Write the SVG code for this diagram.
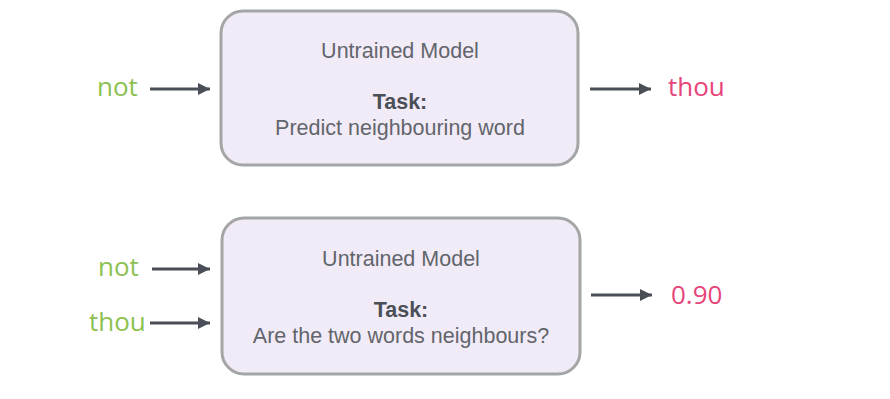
<svg xmlns="http://www.w3.org/2000/svg" width="890" height="399" viewBox="0 0 890 399">
<style>
.box{fill:#f1ebf8;stroke:#a4a6a5;stroke-width:3}
.t{font-family:"Liberation Sans",Arial,sans-serif;font-size:21.5px;fill:#62656b;text-anchor:middle}
.b{font-weight:bold;fill:#4b4f56}
.in{font-family:"Open Sans","Noto Sans",sans-serif;font-size:26px;fill:#8cc152}
.out{font-family:"Open Sans","Noto Sans",sans-serif;font-size:26px;fill:#e6457a}
.c line{stroke:#4a4f57;stroke-width:3;marker-end:url(#ah)}
</style>
<defs>
<marker id="ah" viewBox="0 0 12 12" refX="12" refY="6" markerWidth="12" markerHeight="12" markerUnits="userSpaceOnUse" orient="auto">
<path d="M0,0 L12,6 L0,12 Z" fill="#4a4f57"/>
</marker>
</defs>
<rect width="890" height="399" fill="#ffffff"/>
<g id="model1">
<rect class="box" x="221" y="11" width="357" height="154" rx="22"/>
<text class="t" x="400" y="58">Untrained Model</text>
<text class="t b" x="400" y="109">Task:</text>
<text class="t" x="400" y="135">Predict neighbouring word</text>
</g>
<g id="model2">
<rect class="box" x="222" y="218" width="358" height="156" rx="22"/>
<text class="t" x="401" y="266">Untrained Model</text>
<text class="t b" x="401" y="317">Task:</text>
<text class="t" x="401" y="343">Are the two words neighbours?</text>
</g>
<g id="in1"><text class="in" x="97" y="96">not</text></g>
<g id="out1"><text class="out" x="668" y="96">thou</text></g>
<g id="in2a"><text class="in" x="98" y="276">not</text></g>
<g id="in2b"><text class="in" x="89" y="331">thou</text></g>
<g id="out2"><text class="out" x="671" y="304">0.90</text></g>
<g class="c" id="connectors">
<line x1="150" y1="89" x2="210" y2="89"/>
<line x1="590" y1="89" x2="651" y2="89"/>
<line x1="152" y1="269" x2="210" y2="269"/>
<line x1="150" y1="323" x2="210" y2="323"/>
<line x1="591" y1="295" x2="652" y2="295"/>
</g>
</svg>
